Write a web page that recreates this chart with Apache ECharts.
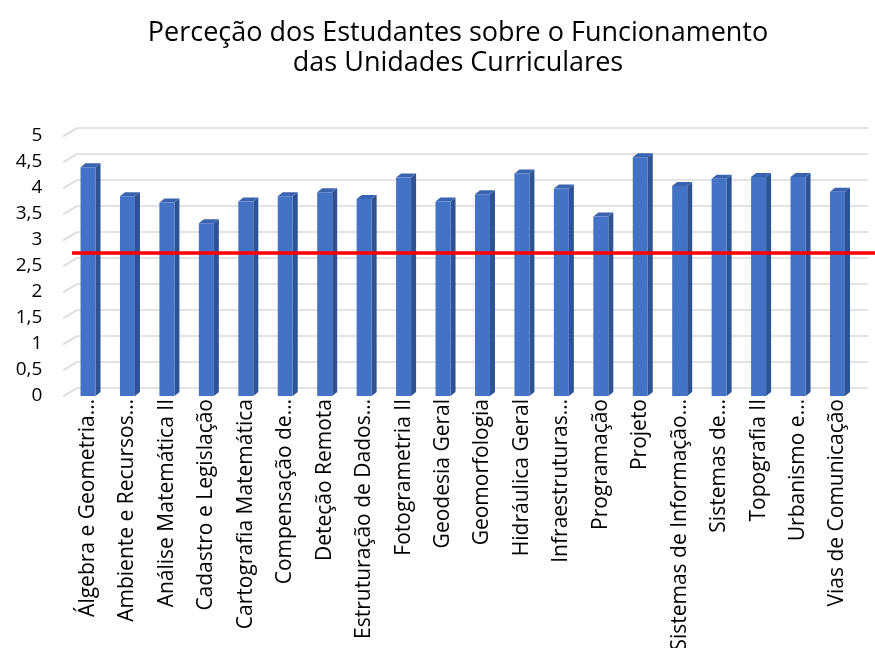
<!DOCTYPE html>
<html>
<head>
<meta charset="utf-8">
<script src="https://cdn.jsdelivr.net/npm/echarts@6/dist/echarts.min.js"></script>
<style>
html, body { margin: 0; padding: 0; background: #fff; }
#chart { width: 875px; height: 648px; }
</style>
</head>
<body>
<div id="chart"></div>
<script>
const categories = [
  'Álgebra e Geometria…', 'Ambiente e Recursos…', 'Análise Matemática II', 'Cadastro e Legislação',
  'Cartografia Matemática', 'Compensação de…', 'Deteção Remota', 'Estruturação de Dados…',
  'Fotogrametria II', 'Geodesia Geral', 'Geomorfologia', 'Hidráulica Geral',
  'Infraestruturas…', 'Programação', 'Projeto', 'Sistemas de Informação…',
  'Sistemas de…', 'Topografia II', 'Urbanismo e…', 'Vias de Comunicação'
]
const scores = [
  4.40, 3.84, 3.72, 3.32, 3.74, 3.84, 3.92, 3.79, 4.20, 3.74,
  3.88, 4.28, 3.99, 3.45, 4.59, 4.04, 4.18, 4.21, 4.21, 3.93
]
const yTicks = [0, 0.5, 1, 1.5, 2, 2.5, 3, 3.5, 4, 4.5, 5]
const yTickLabels = ['0', '0,5', '1', '1,5', '2', '2,5', '3', '3,5', '4', '4,5', '5']
const threshold = 2.75

const font = 'Open Sans'
const frontColor = '#4472C4'
const sideColor = '#2E5293'
const topColor = '#3A63B0'

// 3D-looking column: front face, right side, top
function renderBar (params, api) {
  const base = api.coord([api.value(0), 0])
  const top = api.coord([api.value(0), api.value(1)])
  const w = 15
  const dx = 5
  const dy = 4
  const x0 = base[0] - w / 2
  const x1 = x0 + w
  return {
    type: 'group',
    children: [
      {
        type: 'polygon',
        shape: { points: [[x1, top[1]], [x1 + dx, top[1] - dy], [x1 + dx, base[1] - dy], [x1, base[1]]] },
        style: { fill: sideColor }
      },
      {
        type: 'polygon',
        shape: { points: [[x0, top[1]], [x0 + dx, top[1] - dy], [x1 + dx, top[1] - dy], [x1, top[1]]] },
        style: { fill: topColor }
      },
      {
        type: 'rect',
        shape: { x: x0, y: top[1], width: w, height: base[1] - top[1] },
        style: { fill: frontColor }
      }
    ]
  }
}

// short slanted piece of each gridline (side wall perspective)
function renderSlant (params, api) {
  const p = api.coord([0, api.value(0)])
  return {
    type: 'line',
    shape: { x1: p[0] - 14, y1: p[1] + 8.5, x2: p[0], y2: p[1] },
    style: { stroke: '#dadada', lineWidth: 1.5 }
  }
}

const chart = echarts.init(document.getElementById('chart'))
const option = {
  animation: false,
  backgroundColor: '#fff',
  title: {
    text: 'Perceção dos Estudantes sobre o Funcionamento\ndas Unidades Curriculares',
    left: 453,
    top: 13,
    textAlign: 'center',
    textStyle: {
      fontFamily: font,
      fontSize: 27,
      fontWeight: 'normal',
      color: '#000',
      lineHeight: 30
    }
  },
  grid: [
    { left: 68.3, right: 17.8, top: 136, bottom: 252, outerBoundsMode: 'none', containLabel: false },
    { left: 77, right: 7, top: 128, bottom: 260, outerBoundsMode: 'none', containLabel: false },
    { left: 72, right: 0, top: 136, bottom: 252, outerBoundsMode: 'none', containLabel: false }
  ],
  xAxis: [
    {
      gridIndex: 0,
      type: 'category',
      data: categories,
      axisLine: { show: false },
      axisTick: { show: false },
      axisLabel: {
        interval: 0,
        rotate: 90,
        margin: 3,
        hideOverlap: false,
        fontFamily: font,
        fontSize: 21,
        color: '#000'
      }
    },
    { gridIndex: 1, type: 'value', min: 0, max: 1, show: false },
    { gridIndex: 2, type: 'value', min: 0, max: 1, show: false }
  ],
  yAxis: [
    {
      gridIndex: 0,
      type: 'value',
      min: 0,
      max: 5,
      interval: 0.5,
      axisLine: { show: false },
      axisTick: { show: false },
      splitLine: { show: false },
      axisLabel: {
        margin: 26,
        padding: [6, 0, 0, 0],
        fontFamily: font,
        fontSize: 19,
        color: '#000',
        formatter: v => yTickLabels[yTicks.indexOf(v)]
      }
    },
    {
      gridIndex: 1,
      type: 'value',
      min: 0,
      max: 5,
      interval: 0.5,
      axisLine: { show: false },
      axisTick: { show: false },
      axisLabel: { show: false },
      splitLine: { lineStyle: { color: '#dadada', width: 1.5 } }
    },
    { gridIndex: 2, type: 'value', min: 0, max: 5, show: false }
  ],
  series: [
    {
      type: 'custom',
      xAxisIndex: 1,
      yAxisIndex: 1,
      data: yTicks.map(v => [v]),
      renderItem: renderSlant,
      silent: true
    },
    {
      type: 'custom',
      xAxisIndex: 0,
      yAxisIndex: 0,
      data: scores.map((v, i) => [i, v]),
      renderItem: renderBar,
      z: 3
    },
    {
      type: 'line',
      xAxisIndex: 2,
      yAxisIndex: 2,
      data: [[0, threshold], [1, threshold]],
      symbol: 'none',
      lineStyle: { color: '#ff0000', width: 3.5 },
      z: 5,
      silent: true
    }
  ]
}
chart.setOption(option)
</script>
</body>
</html>
